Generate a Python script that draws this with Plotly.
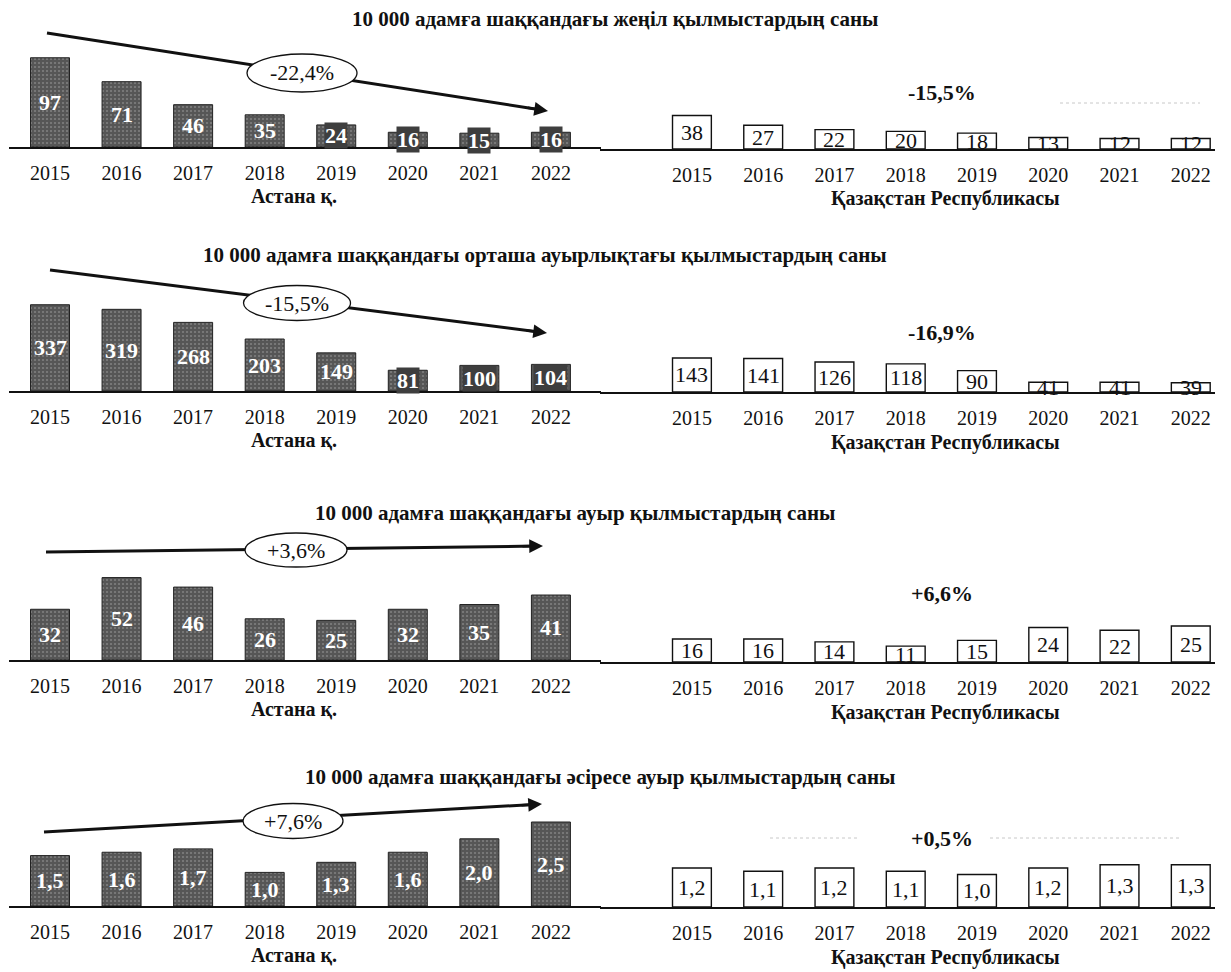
import plotly.graph_objects as go

# ---------------- data ----------------
years = ["2015", "2016", "2017", "2018", "2019", "2020", "2021", "2022"]

astana_light = [97, 71, 46, 35, 24, 16, 15, 16]
kz_light = [38, 27, 22, 20, 18, 13, 12, 12]

astana_medium = [337, 319, 268, 203, 149, 81, 100, 104]
kz_medium = [143, 141, 126, 118, 90, 41, 41, 39]

astana_grave = [32, 52, 46, 26, 25, 32, 35, 41]
kz_grave = [16, 16, 14, 11, 15, 24, 22, 25]

astana_esp_grave = [1.5, 1.6, 1.7, 1.0, 1.3, 1.6, 2.0, 2.5]
kz_esp_grave = [1.2, 1.1, 1.2, 1.1, 1.0, 1.2, 1.3, 1.3]

astana_change = ["-22,4%", "-15,5%", "+3,6%", "+7,6%"]
kz_change = ["-15,5%", "-16,9%", "+6,6%", "+0,5%"]

titles = [
    "10 000 адамға шаққандағы жеңіл қылмыстардың саны",
    "10 000 адамға шаққандағы орташа ауырлықтағы қылмыстардың саны",
    "10 000 адамға шаққандағы ауыр қылмыстардың саны",
    "10 000 адамға шаққандағы әсіресе ауыр қылмыстардың саны",
]
left_label = "Астана қ."
right_label = "Қазақстан Республикасы"

# ---------------- layout config (pixels) ----------------
W, H = 1231, 972
FONT = "Liberation Serif"

panels = [
    dict(a=astana_light, k=kz_light, title_x=615, title_y=19,
         lb=147, lppu=0.92, ltop=25, rb=149, rppu=0.88, rtop=80,
         arrow=((47, 33), (548, 111)), ell=(302, 73, 110, 38),
         pct_y=92, dots=[((1060, 103), (1200, 103))]),
    dict(a=astana_medium, k=kz_medium, title_x=545, title_y=255,
         lb=391, lppu=0.256, ltop=262, rb=392, rppu=0.238, rtop=320,
         arrow=((50, 270), (547, 333)), ell=(297, 303, 107, 35),
         pct_y=332, dots=[]),
    dict(a=astana_grave, k=kz_grave, title_x=575, title_y=513,
         lb=660, lppu=1.585, ltop=530, rb=662, rppu=1.44, rtop=585,
         arrow=((46, 552), (543, 546)), ell=(296, 550, 102, 34),
         pct_y=593, dots=[]),
    dict(a=astana_esp_grave, k=kz_esp_grave, title_x=600, title_y=777,
         lb=906, lppu=33.6, ltop=795, rb=907, rppu=32.5, rtop=830,
         arrow=((44, 832), (542, 804)), ell=(293, 821, 100, 35),
         pct_y=838,
         dots=[((770, 838), (860, 838)), ((990, 838), (1180, 838))]),
]

LEFT_DOM, LEFT_RANGE = (9, 601), (-0.573, 7.70)
RIGHT_DOM, RIGHT_RANGE = (600, 1215), (-1.29, 7.34)
SUB_OFFSET = 49  # px below the baseline for the place labels


def px(x):
    return x / W


def py(y):
    return 1 - y / H


def fmt(v):
    if isinstance(v, float):
        return f"{v:.1f}".replace(".", ",")
    return str(v)


def paper_text(x, y, text, size, bold=False):
    return dict(x=px(x), y=py(y), xref="paper", yref="paper",
                xanchor="center", yanchor="middle", showarrow=False,
                text=f"<b>{text}</b>" if bold else text,
                font=dict(family=FONT, size=size, color="#111"))


fig = go.Figure()
layout = dict(
    width=W, height=H, margin=dict(l=0, r=0, t=0, b=0),
    paper_bgcolor="white", plot_bgcolor="rgba(0,0,0,0)",
    showlegend=False,
)
annotations = []
shapes = []

for i, p in enumerate(panels):
    li, ri = 2 * i + 1, 2 * i + 2
    for idx, vals, base, ppu, top, dom, rng, left in [
        (li, p["a"], p["lb"], p["lppu"], p["ltop"], LEFT_DOM, LEFT_RANGE, True),
        (ri, p["k"], p["rb"], p["rppu"], p["rtop"], RIGHT_DOM, RIGHT_RANGE, False),
    ]:
        xn = "x" if idx == 1 else f"x{idx}"
        yn = "y" if idx == 1 else f"y{idx}"
        if left:
            marker = dict(color="#565656", line=dict(color="#222", width=1),
                          pattern=dict(shape=".", fgcolor="#a8a8a8", size=4, solidity=0.22))
        else:
            marker = dict(color="white", line=dict(color="#111", width=1.4))
        fig.add_trace(go.Bar(x=years, y=vals, xaxis=xn, yaxis=yn, width=0.545,
                             marker=marker, hoverinfo="skip"))
        layout["xaxis" if idx == 1 else f"xaxis{idx}"] = dict(
            domain=[px(dom[0]), px(dom[1])], anchor=yn, type="category",
            range=list(rng), showline=True, linecolor="#111", linewidth=1.6,
            showgrid=False, zeroline=False, ticks="",
            tickfont=dict(family=FONT, size=20, color="#111"),
            ticklabelstandoff=7, fixedrange=True,
        )
        layout["yaxis" if idx == 1 else f"yaxis{idx}"] = dict(
            domain=[py(base), py(top)], anchor=xn,
            range=[0, (base - top) / ppu], visible=True, showticklabels=False,
            showgrid=False, zeroline=False, showline=False, ticks="", fixedrange=True,
        )
        # value labels, centred in each bar
        for j, v in enumerate(vals):
            hpx = v * ppu
            if left:
                annotations.append(dict(
                    x=j, y=v / 2, xref=xn, yref=yn, xanchor="center", yanchor="middle",
                    text=f"<b>{fmt(v)}</b>", showarrow=False,
                    font=dict(family=FONT, size=22, color="white"),
                    bgcolor="#3e3e3e" if hpx < 30 else "rgba(0,0,0,0)", borderpad=0))
            else:
                annotations.append(dict(
                    x=j, y=v / 2, xref=xn, yref=yn, xanchor="center", yanchor="middle",
                    text=fmt(v), showarrow=False,
                    font=dict(family=FONT, size=22, color="#111")))

    annotations.append(paper_text(p["title_x"], p["title_y"], titles[i], 21, bold=True))
    annotations.append(paper_text(294, p["lb"] + SUB_OFFSET, left_label, 20, bold=True))
    annotations.append(paper_text(945, p["rb"] + SUB_OFFSET + 1, right_label, 20, bold=True))
    annotations.append(paper_text(942, p["pct_y"], kz_change[i], 22, bold=True))
    for (a0, a1) in p["dots"]:
        shapes.append(dict(type="line", xref="paper", yref="paper",
                           x0=px(a0[0]), y0=py(a0[1]), x1=px(a1[0]), y1=py(a1[1]),
                           line=dict(color="#c8c8c8", width=1, dash="dot"), layer="above"))
    # trend arrow with ellipse label
    (tx, ty), (hx, hy) = p["arrow"]
    shapes.append(dict(type="line", xref="paper", yref="paper",
                       x0=px(tx), y0=py(ty), x1=px(hx - 8), y1=py(hy - (hy - ty) * 8 / (hx - tx)),
                       line=dict(color="#111", width=3), layer="above"))
    cx, cy, ew, eh = p["ell"]
    shapes.append(dict(type="circle", xref="paper", yref="paper",
                       x0=px(cx - ew / 2), x1=px(cx + ew / 2), y0=py(cy + eh / 2), y1=py(cy - eh / 2),
                       fillcolor="white", line=dict(color="#111", width=1.3), layer="above"))
    L = ((tx - hx) ** 2 + (ty - hy) ** 2) ** 0.5
    annotations.append(dict(x=px(hx), y=py(hy), xref="paper", yref="paper", text="",
                            showarrow=True, arrowhead=2, arrowsize=1.1, arrowwidth=2.5,
                            arrowcolor="#111", ax=(tx - hx) / L * 22, ay=(ty - hy) / L * 22,
                            standoff=0))
    annotations.append(paper_text(cx, cy, astana_change[i], 22))

layout["annotations"] = annotations
layout["shapes"] = shapes
fig.update_layout(**layout)

fig.write_html("out.html", post_script="document.body.style.margin='0';",
               config={"displayModeBar": False})
